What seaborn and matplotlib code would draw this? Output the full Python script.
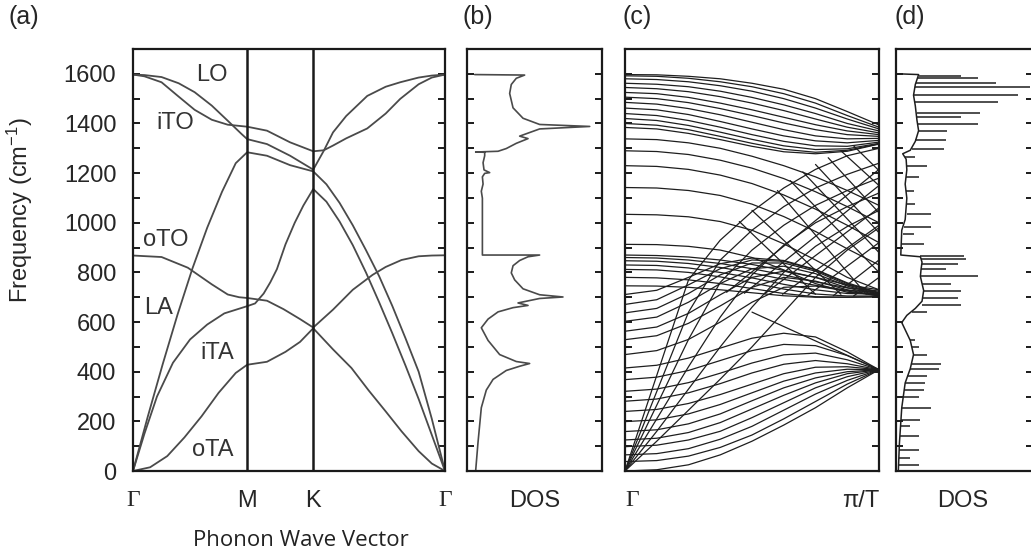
import numpy as np
import pandas as pd
import matplotlib
matplotlib.use('Agg')
import matplotlib.pyplot as plt
import seaborn as sns

# ---------------- panel (a): graphene branches ----------------
# path coordinate: 0-1 = Gamma-M, 1-2 = M-K, 2-3 = K-Gamma
SEG_EDGES = [0, 1, 2, 3]
SEG_POS = [0, 0.577, 0.911, 1.577]

LO_T = [0, .1, .25, .4, .54, .69, .83, .95, 1, 1.3, 1.65, 2, 2.08, 2.15, 2.25, 2.41, 2.55, 2.66, 2.8, 2.9, 3]
LO_F = [1597, 1595, 1587, 1562, 1526, 1472, 1411, 1358, 1337, 1317, 1270, 1214, 1290, 1364, 1430, 1511, 1548, 1566, 1585, 1593, 1597]
ITO_T = [0, .1, .25, .39, .54, .69, .83, 1, 1.3, 1.65, 2, 2.08, 2.15, 2.25, 2.41, 2.55, 2.66, 2.8, 2.9, 3]
ITO_F = [1597, 1590, 1566, 1512, 1455, 1415, 1395, 1387, 1371, 1324, 1288, 1292, 1311, 1340, 1380, 1440, 1499, 1558, 1585, 1597]
LA_T = [0, .13, .26, .39, .52, .65, .78, .9, 1, 1.3, 1.65, 2, 2.1, 2.2, 2.3, 2.4, 2.5, 2.6, 2.7, 2.8, 2.9, 3]
LA_F = [0, 220, 430, 630, 815, 980, 1125, 1240, 1284, 1270, 1232, 1207, 1155, 1080, 990, 890, 785, 665, 535, 400, 210, 0]
ITA_T = [0, .1, .21, .35, .5, .65, .8, 1, 1.12, 1.25, 1.35, 1.45, 1.58, 1.72, 1.85, 2, 2.1, 2.2, 2.3, 2.4, 2.5, 2.6, 2.7, 2.8, 2.9, 3]
ITA_F = [0, 150, 300, 436, 530, 590, 635, 664, 675, 715, 760, 813, 913, 1000, 1069, 1136, 1085, 1005, 910, 800, 680, 555, 425, 290, 145, 0]
OTA_T = [0, .15, .3, .45, .6, .75, .9, 1, 1.3, 1.58, 1.8, 2, 2.15, 2.29, 2.42, 2.55, 2.67, 2.8, 2.9, 3]
OTA_F = [0, 15, 60, 135, 220, 315, 395, 428, 440, 480, 520, 575, 490, 415, 325, 240, 160, 80, 30, 0]
OTO_T = [0, .25, .48, .69, .83, .93, 1, 1.3, 1.55, 1.8, 2, 2.15, 2.3, 2.45, 2.55, 2.67, 2.8, 2.9, 3]
OTO_F = [868, 862, 819, 752, 711, 700, 697, 686, 652, 612, 578, 650, 730, 790, 822, 850, 865, 868, 869]

BRANCH_NAMES = ['LO', 'iTO', 'LA', 'iTA', 'oTA', 'oTO']
BRANCH_T = [LO_T, ITO_T, LA_T, ITA_T, OTA_T, OTO_T]
BRANCH_F = [LO_F, ITO_F, LA_F, ITA_F, OTA_F, OTO_F]
# label anchor (path position, frequency)
LABEL_X = [0.400, 0.213, 0.167, 0.127, 0.426, 0.405]
LABEL_Y = [1596, 1402, 929, 655, 477, 85]
LABEL_TXT = ['LO', 'iTO', 'oTO', 'LA', 'iTA', 'oTA']

# ---------------- panel (b): graphene DOS ----------------
DOS_B_D = [.064, .081, .106, .143, .193, .291, .390, .464, .365, .242, .156, .106, .156, .230, .341, .452,
           .378, .538, .711, .538, .415, .353, .328, .341, .390, .452, .538, .114, .114, .106, .119, .114,
           .131, .168, .126, .119, .131, .131, .064, .230, .291, .365, .452, .390, .538, .909, .538, .415,
           .341, .316, .328, .365, .427, .057]
DOS_B_F = [0, 112, 255, 326, 369, 405, 422, 433, 441, 469, 526, 577, 612, 641, 658, 667,
           677, 695, 701, 710, 734, 770, 798, 827, 848, 863, 870, 870, 1099, 1127, 1156, 1185,
           1199, 1202, 1213, 1242, 1270, 1284, 1285, 1288, 1299, 1320, 1339, 1349, 1378, 1388, 1396, 1421,
           1463, 1521, 1557, 1582, 1595, 1597]

# ---------------- panel (c): nanotube dispersion ----------------
K9 = [0, .125, .25, .375, .5, .625, .75, .875, 1]
UPPER_OPT = [
    [1597, 1596, 1590, 1580, 1562, 1538, 1500, 1448, 1394],
    [1592, 1590, 1582, 1568, 1548, 1520, 1482, 1432, 1385],
    [1580, 1577, 1568, 1552, 1530, 1500, 1462, 1418, 1378],
    [1562, 1558, 1548, 1530, 1505, 1475, 1440, 1400, 1370],
    [1545, 1540, 1528, 1508, 1482, 1452, 1418, 1385, 1362],
    [1525, 1520, 1505, 1482, 1455, 1425, 1395, 1370, 1355],
    [1506, 1500, 1484, 1460, 1432, 1402, 1375, 1355, 1348],
    [1485, 1478, 1460, 1435, 1405, 1375, 1350, 1338, 1340],
    [1462, 1455, 1436, 1408, 1378, 1350, 1330, 1322, 1332],
    [1440, 1432, 1412, 1385, 1355, 1328, 1310, 1308, 1325],
    [1420, 1412, 1392, 1365, 1336, 1310, 1295, 1298, 1320],
    [1400, 1393, 1375, 1348, 1320, 1296, 1284, 1292, 1318],
    [1384, 1378, 1360, 1335, 1308, 1286, 1278, 1288, 1317],
]
FLAT_DOWN = [
    [1338, 1335, 1322, 1300, 1268, 1230, 1185, 1130, 1070],
    [1290, 1287, 1275, 1252, 1220, 1178, 1125, 1065, 1000],
    [1230, 1227, 1215, 1192, 1158, 1112, 1055, 990, 920],
    [1142, 1140, 1130, 1110, 1075, 1025, 965, 895, 830],
    [1034, 1032, 1024, 1005, 970, 915, 850, 780, 730],
    [913, 912, 905, 890, 860, 810, 755, 720, 712],
]
STEEP = [
    [0, 385, 770, 930, 1045, 1140, 1215, 1270, 1300],
    [0, 320, 640, 850, 970, 1065, 1140, 1195, 1240],
    [0, 265, 530, 760, 890, 990, 1070, 1130, 1180],
    [0, 210, 420, 620, 790, 910, 1000, 1065, 1120],
    [0, 160, 330, 500, 660, 800, 905, 985, 1050],
    [0, 120, 245, 370, 500, 640, 780, 890, 980],
]
MID_OPT = [
    [870, 868, 862, 850, 832, 808, 780, 750, 730],
    [860, 858, 850, 836, 815, 790, 762, 738, 725],
    [847, 845, 836, 820, 798, 772, 748, 728, 720],
    [830, 828, 818, 800, 778, 752, 730, 715, 712],
    [812, 810, 800, 782, 758, 733, 713, 705, 705],
    [780, 778, 770, 755, 735, 715, 702, 700, 702],
    [746, 745, 740, 730, 718, 706, 700, 700, 702],
]
UPPER_FAN = [
    [469, 485, 530, 600, 680, 740, 745, 725, 705],
    [529, 545, 595, 665, 740, 780, 765, 730, 705],
    [563, 580, 635, 710, 780, 805, 780, 738, 708],
    [603, 620, 680, 755, 815, 825, 795, 745, 710],
    [637, 655, 715, 790, 838, 838, 805, 750, 712],
    [671, 690, 750, 815, 850, 845, 810, 755, 715],
    [711, 728, 780, 835, 858, 848, 812, 758, 718],
]
LOWER_FAN = [
    [0, 5, 25, 65, 120, 185, 255, 335, 408],
    [38, 42, 60, 95, 145, 210, 280, 350, 408],
    [65, 70, 90, 128, 180, 245, 310, 365, 408],
    [98, 104, 125, 160, 215, 275, 335, 380, 408],
    [125, 132, 155, 195, 250, 305, 355, 392, 408],
    [159, 166, 190, 230, 283, 335, 375, 400, 408],
    [199, 206, 230, 268, 315, 362, 395, 410, 408],
    [240, 248, 272, 308, 350, 392, 418, 420, 408],
    [281, 290, 315, 352, 395, 430, 445, 432, 408],
    [321, 330, 356, 394, 435, 468, 475, 448, 408],
    [368, 378, 405, 445, 485, 510, 505, 465, 408],
    [415, 426, 455, 495, 535, 555, 540, 480, 408],
]
# straight pieces of the crossing mesh (k0, f0, k1, f1)
GRID_LINES = [
    (0.62, 712, 1, 990), (0.72, 708, 1, 920), (0.82, 706, 1, 850), (0.9, 705, 1, 780),
    (0.55, 714, 1, 1060), (0.47, 716, 1, 1150), (0.40, 720, 1, 1215),
    (0.85, 1290, 1, 1150), (0.9, 1310, 1, 1210), (0.7, 1205, 1, 880),
    (0.75, 1235, 1, 960), (0.8, 1262, 1, 1040), (0.65, 1170, 1, 800),
    (0.6, 1130, 0.95, 712), (0.5, 1050, 0.85, 712), (0.45, 1005, 0.75, 712),
    (0.5, 640, 1, 408),
]

# ---------------- panel (d): nanotube DOS ----------------
DOS_D_D = [.017, .025, .042, .067, .104, .128, .104, .067, .042, .079, .141, .190, .202, .190, .178, .183,
           .190, .178, .035, .042, .067, .079, .067, .079, .074, .049, .104, .141, .165, .153, .141, .128,
           .141, .158, .165, .017]
DOS_D_F = [0, 112, 255, 355, 412, 469, 526, 569, 598, 627, 655, 684, 727, 755, 784, 813,
           841, 863, 870, 970, 1013, 1099, 1156, 1213, 1256, 1278, 1292, 1328, 1371, 1413, 1471, 1514,
           1557, 1585, 1597, 1600]
SPK_F = [26, 54, 83, 140, 183, 205, 255, 298, 326, 355, 383, 412, 433, 469, 498, 526, 641, 670, 698, 727,
         755, 784, 813, 834, 856, 867, 913, 956, 984, 1034, 1077, 1127, 1185, 1227, 1263, 1299, 1335, 1371,
         1399, 1428, 1442, 1485, 1516, 1545, 1564, 1582, 1592]
SPK_BASE = [.020, .022, .022, .030, .035, .037, .042, .052, .062, .067, .079, .104, .116, .128, .116, .104,
            .116, .190, .198, .202, .190, .178, .183, .190, .183, .178, .042, .049, .062, .079, .079, .074,
            .074, .079, .067, .116, .141, .165, .158, .153, .153, .141, .133, .141, .148, .158, .165]
SPK_PEAK = [.165, .104, .165, .165, .104, .178, .252, .165, .202, .215, .227, .314, .326, .227, .165, .141,
            .227, .474, .449, .474, .400, .598, .363, .449, .511, .499, .202, .128, .252, .252, .141, .128,
            .165, .227, .141, .351, .363, .375, .598, .474, .610, .746, .894, .980, .733, .598, .474]

# ---------------- style ----------------
sns.set_theme(style='ticks')
plt.rcParams['font.family'] = ['Liberation Sans', 'DejaVu Sans']
plt.rcParams['mathtext.default'] = 'regular'
plt.rcParams['axes.linewidth'] = 1.6

W, H = 1031, 558
fig = plt.figure(figsize=(W / 100, H / 100), dpi=100)


def box(x0, x1, y0=49, y1=471):
    return fig.add_axes([x0 / W, 1 - y1 / H, (x1 - x0) / W, (y1 - y0) / H])


ax_a = box(133, 445)
ax_b = box(467, 602)
ax_c = box(625, 879)
ax_d = box(896, 1033)

FS = 17
for ax in (ax_a, ax_b, ax_c, ax_d):
    ax.set_ylim(0, 1700)
    ax.set_yticks(np.arange(0, 1601, 200))
    ax.set_yticks(np.arange(0, 1700, 100), minor=True)
    ax.tick_params(axis='y', which='both', direction='in', left=True, right=True,
                   length=5, width=1.4, labelsize=FS, pad=12, color='k')
    ax.tick_params(axis='x', length=0, pad=14, labelsize=FS)
    for s in ax.spines.values():
        s.set_color('k')
        s.set_linewidth(1.6)
for ax in (ax_b, ax_c, ax_d):
    ax.tick_params(axis='y', labelleft=False)

# (a)
line_col = '#4a4a4a'
for name, t, f in zip(BRANCH_NAMES, BRANCH_T, BRANCH_F):
    x = np.interp(t, SEG_EDGES, SEG_POS)
    sns.lineplot(x=x, y=f, ax=ax_a, color=line_col, lw=1.3, sort=False, estimator=None)
for xv in SEG_POS[1:3]:
    ax_a.axvline(xv, color='k', lw=1.8)
ax_a.set_xlim(SEG_POS[0], SEG_POS[-1])
ax_a.set_xticks(SEG_POS)
ax_a.set_xticklabels(['Γ', 'M', 'K', 'Γ'])
for lab in ax_a.get_xticklabels():
    if lab.get_text() == 'Γ':
        lab.set_fontfamily(['Liberation Serif', 'DejaVu Serif'])
for tx, ty, s in zip(LABEL_X, LABEL_Y, LABEL_TXT):
    ax_a.text(tx, ty, s, fontsize=FS, ha='center', va='center', color='#333333')
fig.text(301 / W, 1 - 541 / H, 'Phonon Wave Vector', fontsize=16, ha='center', va='center',
         family=['Open Sans', 'DejaVu Sans'], color='#222222')

# (b)
sns.lineplot(x=DOS_B_D, y=DOS_B_F, ax=ax_b, color=line_col, lw=1.2, sort=False, estimator=None)
ax_b.set_xlim(0, 1)
ax_b.set_xticks([0.5])
ax_b.set_xticklabels(['DOS'])

# (c)
rows = []
cid = 0
for fam in (UPPER_OPT, FLAT_DOWN, STEEP, MID_OPT, UPPER_FAN, LOWER_FAN):
    for curve in fam:
        for k, f in zip(K9, curve):
            rows.append((cid, k, f))
        cid += 1
for k0, f0, k1, f1 in GRID_LINES:
    rows.append((cid, k0, f0))
    rows.append((cid, k1, f1))
    cid += 1
df_c = pd.DataFrame(rows, columns=['curve', 'k', 'freq'])
sns.lineplot(data=df_c, x='k', y='freq', units='curve', estimator=None, sort=False,
             ax=ax_c, color='#1e1e1e', lw=0.9)
ax_c.set_xlim(0, 1)
ax_c.set_xticks([0, 1])
ax_c.set_xticklabels(['Γ', 'π/T'])
labs = ax_c.get_xticklabels()
labs[0].set_fontfamily(['Liberation Serif', 'DejaVu Serif'])
labs[0].set_ha('left')
labs[1].set_ha('right')

# (d)
sns.lineplot(x=DOS_D_D, y=DOS_D_F, ax=ax_d, color='#1e1e1e', lw=1.1, sort=False, estimator=None)
ax_d.hlines(SPK_F, SPK_BASE, SPK_PEAK, color='#1e1e1e', lw=1.1)
ax_d.set_xlim(0, 1)
ax_d.set_xticks([0.49])
ax_d.set_xticklabels(['DOS'])

for s, xp in zip(['(a)', '(b)', '(c)', '(d)'], [8, 462, 622, 895]):
    fig.text(xp / W, 1 - 17 / H, s, fontsize=FS + 1, ha='left', va='center')

for ax in (ax_a, ax_b, ax_c, ax_d):
    ax.set_xlabel('')
    ax.set_ylabel('')
ax_a.set_ylabel('Frequency (cm$^{-1}$)', fontsize=FS)
ax_a.yaxis.set_label_coords(-0.315, 0.618)

fig.savefig('out.png', dpi=100)
